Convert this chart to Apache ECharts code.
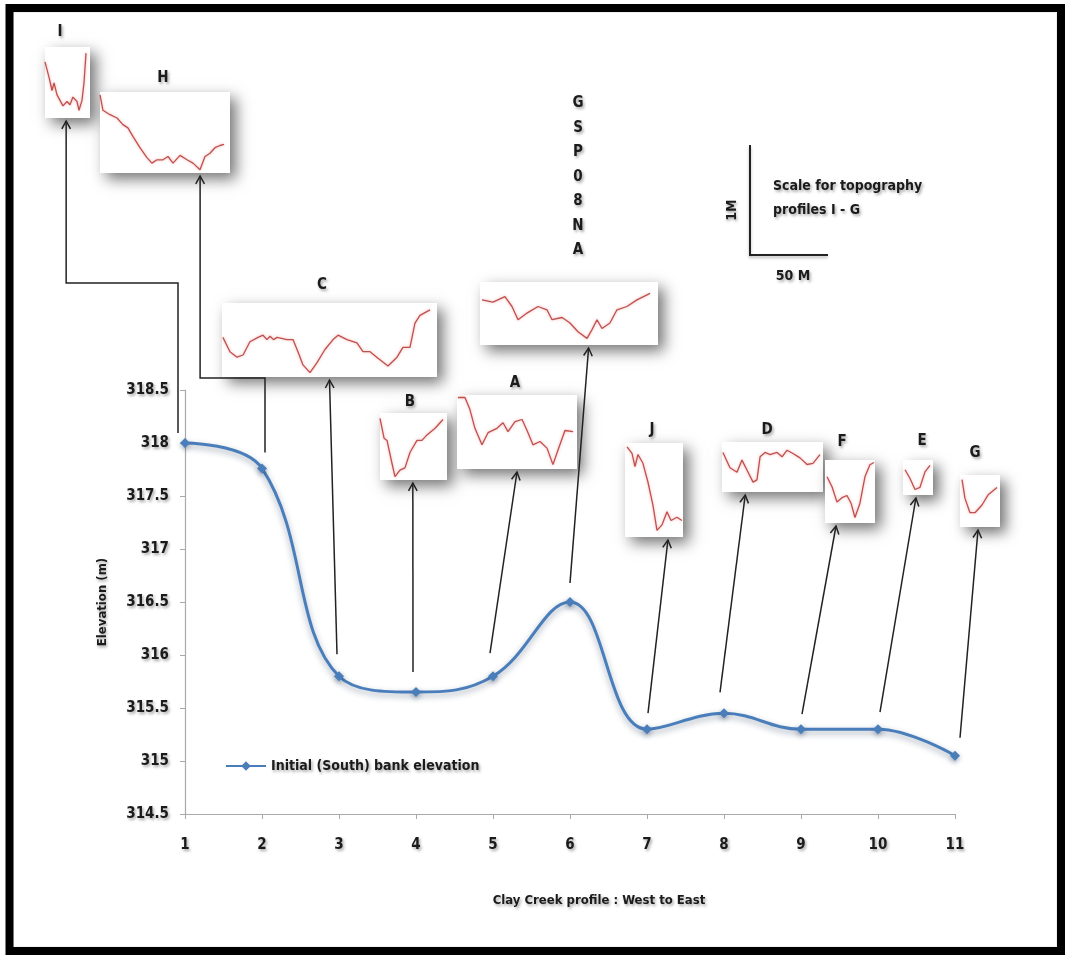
<!DOCTYPE html>
<html>
<head>
<meta charset="utf-8">
<title>Clay Creek bank elevation</title>
<script src="https://cdn.jsdelivr.net/npm/echarts@6/dist/echarts.min.js"></script>
<style>
  html, body { margin: 0; padding: 0; background: #ffffff; }
  #chart { width: 1065px; height: 955px; }
</style>
</head>
<body>
<div id="chart"></div>
<script>
// ---- Main profile: bank elevation at each cross-section (West to East) ----
const profilePositions = [1, 2, 3, 4, 5, 6, 7, 8, 9, 10, 11];
const bankElevation = [318.0, 317.76, 315.8, 315.65, 315.8, 316.5, 315.3, 315.45, 315.3, 315.3, 315.05];
const seriesName = 'Initial (South) bank elevation';

// ---- Cross-section topography (distance along section in m, relative elevation in cm) ----
const profileI_m  = [0, 2.6, 4.5, 5.8, 7.7, 9.6, 11.5, 14.1, 16.0, 17.9, 20.5, 21.8, 23.7, 25.0, 26.3];
const profileI_cm = [51, 37, 25, 32, 21, 16, 11, 15, 12, 19, 15, 7, 16, 32, 59];

const profileH_m  = [0, 1.9, 6.4, 10.9, 14.7, 17.9, 21.2, 25.6, 30.1, 33.3, 36.5, 40.4, 43.6, 46.8, 51.3, 55.8, 59.6, 64.1, 67.3, 70.5, 73.7, 76.9, 79.5];
const profileH_cm = [71, 57, 53, 50, 44, 41, 33, 23, 14, 9, 12, 12, 15, 9, 16, 12, 9, 3, 15, 18, 23, 25, 26];

const profileC_m  = [0.6, 5.1, 9.6, 13.5, 17.9, 23.1, 26.3, 28.8, 30.8, 33.0, 35.3, 41.7, 45.5, 48.7, 51.9, 56.4, 60.9, 66.0, 71.2, 74.4, 80.1, 86.5, 90.4, 94.9, 100.0, 106.4, 112.2, 116.0, 120.5, 123.7, 126.9, 133.3];
const profileC_cm = [36, 23, 18, 20, 32, 36, 38, 34, 37, 34, 36, 34, 34, 23, 11, 4, 13, 25, 34, 38, 34, 31, 23, 23, 17, 10, 18, 27, 27, 49, 56, 61];

const profileGSP_m  = [1.3, 8.3, 16.0, 20.5, 24.4, 30.1, 37.2, 42.9, 46.2, 52.6, 57.7, 62.8, 68.6, 71.8, 75.0, 78.2, 83.3, 87.8, 94.2, 100.6, 109.0];
const profileGSP_cm = [41, 39, 44, 35, 23, 29, 35, 32, 23, 25, 20, 12, 6, 14, 23, 15, 20, 32, 35, 41, 47];

const profileB_m  = [0, 2.6, 4.5, 7.7, 9.6, 12.8, 16.0, 19.2, 23.7, 26.9, 30.1, 35.3, 40.4];
const profileB_cm = [56, 38, 36, 15, 3, 9, 11, 25, 36, 36, 41, 47, 55];

const profileA_m  = [0.6, 5.1, 8.3, 11.5, 16.0, 19.9, 25.6, 29.5, 32.7, 37.2, 41.7, 44.9, 48.7, 53.2, 57.7, 61.5, 64.7, 69.2, 74.4];
const profileA_cm = [65, 65, 54, 37, 22, 33, 37, 42, 34, 43, 45, 35, 22, 25, 19, 4, 17, 35, 34];

const profileJ_m  = [1.3, 4.5, 6.4, 8.3, 11.5, 14.7, 17.9, 20.5, 23.7, 26.9, 29.5, 33.3, 36.5];
const profileJ_cm = [82, 76, 64, 75, 67, 50, 29, 6, 11, 23, 15, 18, 15];

const profileD_m  = [0.6, 5.1, 9.6, 12.8, 16.0, 19.9, 22.4, 24.4, 27.6, 30.8, 35.3, 38.5, 41.7, 45.5, 50.0, 54.5, 58.3, 62.8];
const profileD_cm = [36, 22, 18, 29, 20, 9, 11, 32, 36, 34, 36, 32, 38, 35, 31, 25, 26, 34];

const profileF_m  = [1.3, 4.5, 7.7, 10.9, 14.1, 16.7, 19.2, 22.4, 25.6, 28.8, 31.4];
const profileF_cm = [42, 33, 19, 23, 25, 18, 5, 18, 42, 53, 55];

const profileE_m  = [1.3, 4.5, 7.7, 10.9, 14.1, 17.3];
const profileE_cm = [23, 15, 5, 7, 21, 27];

const profileG_m  = [1.3, 3.2, 6.4, 9.6, 14.1, 17.9, 23.7];
const profileG_cm = [43, 26, 13, 13, 20, 29, 36];

// ---- Scale of the topography insets ----
const PX_PER_M_ALONG = 78 / 50;   // horizontal: 50 m bar
const PX_PER_CM_UP = 110 / 100;   // vertical: 1 m bar

// ---- Inset layout: [left, top, width, height], label anchor, arrow geometry ----
const insets = [
  { name: 'I', m: profileI_m, cm: profileI_cm, box: [45, 47, 45, 71], label: [60, 32],
    point: 0, dx: -7, gap: 10, bendY: 283, endFrac: 0.47 },
  { name: 'H', m: profileH_m, cm: profileH_cm, box: [100, 92, 130, 81], label: [163, 78],
    point: 1, dx: 3, gap: 16, bendY: 378, endFrac: 0.77 },
  { name: 'C', m: profileC_m, cm: profileC_cm, box: [222, 303, 215, 74], label: [322, 285],
    point: 2, dx: -2, gap: 22, endFrac: 0.50 },
  { name: 'GSP08NA', m: profileGSP_m, cm: profileGSP_cm, box: [480, 282, 178, 63], label: null,
    point: 5, dx: 0, gap: 19, endFrac: 0.61 },
  { name: 'B', m: profileB_m, cm: profileB_cm, box: [380, 413, 67, 67], label: [410, 402],
    point: 3, dx: -3, gap: 20, endFrac: 0.49 },
  { name: 'A', m: profileA_m, cm: profileA_cm, box: [457, 395, 120, 74], label: [515, 383],
    point: 4, dx: -3, gap: 23, endFrac: 0.50 },
  { name: 'J', m: profileJ_m, cm: profileJ_cm, box: [625, 443, 58, 94], label: [652, 430],
    point: 6, dx: 1, gap: 16, endFrac: 0.74 },
  { name: 'D', m: profileD_m, cm: profileD_cm, box: [722, 442, 101, 50], label: [767, 430],
    point: 7, dx: -4, gap: 21, endFrac: 0.23 },
  { name: 'F', m: profileF_m, cm: profileF_cm, box: [825, 460, 50, 63], label: [842, 442],
    point: 8, dx: 1, gap: 15, endFrac: 0.22 },
  { name: 'E', m: profileE_m, cm: profileE_cm, box: [903, 460, 30, 35], label: [922, 441],
    point: 9, dx: 2, gap: 17, endFrac: 0.43 },
  { name: 'G', m: profileG_m, cm: profileG_cm, box: [960, 475, 40, 52], label: [975, 453],
    point: 10, dx: 5, gap: 18, endFrac: 0.45 }
];

const FONT = '"DejaVu Sans Condensed", "Liberation Sans Narrow", "DejaVu Sans", sans-serif';
const INK = '#1b1b1b';
const textShadow = {
  textShadowColor: 'rgba(0,0,0,0.35)', textShadowBlur: 3,
  textShadowOffsetX: 1.5, textShadowOffsetY: 2
};

const chart = echarts.init(document.getElementById('chart'), null, { renderer: 'canvas' });

// ---- Build grids / axes / series ----
const grids = [{ left: 185, top: 390, width: 770, height: 424, containLabel: false }];
const xAxes = [{
  type: 'value', gridIndex: 0, min: 1, max: 11, interval: 1,
  name: 'Clay Creek profile : West to East', nameLocation: 'middle', nameGap: 80,
  nameTextStyle: Object.assign({ color: INK, fontFamily: FONT, fontWeight: 'bold', fontSize: 13,
    padding: [0, 0, 0, 58] }, textShadow),
  axisLine: { show: true, lineStyle: { color: '#a9a9a9', width: 1.2 } },
  axisTick: { show: true, length: 5, lineStyle: { color: '#a9a9a9' } },
  splitLine: { show: false },
  axisLabel: Object.assign({ color: INK, fontFamily: FONT, fontWeight: 'bold', fontSize: 15, margin: 24 }, textShadow)
}];
const yAxes = [{
  type: 'value', gridIndex: 0, min: 314.5, max: 318.5, interval: 0.5,
  name: 'Elevation (m)', nameLocation: 'middle', nameGap: 76, nameRotate: 90,
  nameTextStyle: Object.assign({ color: INK, fontFamily: FONT, fontWeight: 'bold', fontSize: 13 }, textShadow),
  axisLine: { show: true, lineStyle: { color: '#a9a9a9', width: 1.2 } },
  axisTick: { show: true, length: 5, lineStyle: { color: '#a9a9a9' } },
  splitLine: { show: false },
  axisLabel: Object.assign({ color: INK, fontFamily: FONT, fontWeight: 'bold', fontSize: 15, margin: 16 }, textShadow)
}];
const series = [{
  name: seriesName, type: 'line', xAxisIndex: 0, yAxisIndex: 0,
  data: profilePositions.map((p, i) => [p, bankElevation[i]]),
  smooth: 0.4,
  symbol: 'diamond', symbolSize: 10,
  itemStyle: { color: '#4a7ebb', shadowColor: 'rgba(40,60,90,0.45)', shadowBlur: 5, shadowOffsetY: 2 },
  lineStyle: { color: '#4a7ebb', width: 3, shadowColor: 'rgba(40,60,90,0.45)', shadowBlur: 6, shadowOffsetY: 3 },
  z: 3
}];

insets.forEach((ins, k) => {
  const [l, t, w, h] = ins.box;
  grids.push({
    left: l, top: t, width: w, height: h, show: true,
    backgroundColor: '#ffffff', borderWidth: 0,
    shadowColor: 'rgba(0,0,0,0.55)', shadowBlur: 14, shadowOffsetX: 6, shadowOffsetY: 6
  });
  xAxes.push({ type: 'value', gridIndex: k + 1, min: 0, max: w / PX_PER_M_ALONG, show: false });
  yAxes.push({ type: 'value', gridIndex: k + 1, min: 0, max: h / PX_PER_CM_UP, show: false });
  series.push({
    name: 'profile ' + ins.name, type: 'line', xAxisIndex: k + 1, yAxisIndex: k + 1,
    data: ins.m.map((d, i) => [d, ins.cm[i]]),
    showSymbol: false, silent: true,
    lineStyle: { color: '#c0504d', width: 1.3, shadowColor: 'rgba(230,120,120,0.6)', shadowBlur: 3 },
    z: 4
  });
});

chart.setOption({
  animation: false,
  backgroundColor: '#ffffff',
  grid: grids,
  xAxis: xAxes,
  yAxis: yAxes,
  legend: {
    data: [seriesName], left: 220, top: 754, itemWidth: 40, itemHeight: 12, itemGap: 6,
    textStyle: Object.assign({ color: INK, fontFamily: FONT, fontWeight: 'bold', fontSize: 14 }, textShadow)
  },
  series: series
});

// ---- Annotation layer: arrows, inset labels, scale bar, frame ----
const graphics = [];
const ARROW_STYLE = { stroke: '#222222', lineWidth: 1.5, fill: 'none' };

function arrowHead(from, to) {
  const ang = Math.atan2(to[1] - from[1], to[0] - from[0]);
  const len = 9, spread = 0.5;
  return [
    [to[0] - len * Math.cos(ang - spread), to[1] - len * Math.sin(ang - spread)],
    to,
    [to[0] - len * Math.cos(ang + spread), to[1] - len * Math.sin(ang + spread)]
  ];
}

insets.forEach(ins => {
  const [l, t, w, h] = ins.box;
  const pt = chart.convertToPixel({ xAxisIndex: 0, yAxisIndex: 0 },
    [profilePositions[ins.point], bankElevation[ins.point]]);
  const start = [pt[0] + ins.dx, pt[1] - ins.gap];
  const end = [l + ins.endFrac * w, t + h + 3];
  let pts;
  if (ins.bendY !== undefined) {
    pts = [start, [start[0], ins.bendY], [end[0], ins.bendY], end];
  } else {
    pts = [start, end];
  }
  graphics.push({ type: 'polyline', shape: { points: pts }, style: ARROW_STYLE, z: 1, silent: true });
  graphics.push({ type: 'polyline', shape: { points: arrowHead(pts[pts.length - 2], end) },
    style: ARROW_STYLE, z: 1, silent: true });
  if (ins.label) {
    graphics.push({
      type: 'text', x: ins.label[0], y: ins.label[1], z: 5, silent: true,
      style: Object.assign({ text: ins.name, font: 'bold 15px ' + FONT, fill: INK,
        align: 'center', verticalAlign: 'middle' }, textShadow)
    });
  }
});

// vertical name of the GSP08NA section
graphics.push({
  type: 'text', x: 578, y: 91, z: 5, silent: true,
  style: Object.assign({ text: 'GSP08NA'.split('').join('\n'), font: 'bold 15px ' + FONT, fill: INK,
    align: 'center', verticalAlign: 'top', lineHeight: 24.5 }, textShadow)
});

// scale bar for the topography insets
const sbX = 750, sbY = 255;
graphics.push({
  type: 'polyline', silent: true, z: 5,
  shape: { points: [[sbX, sbY - 100 * PX_PER_CM_UP], [sbX, sbY], [sbX + 50 * PX_PER_M_ALONG, sbY]] },
  style: { stroke: '#222222', lineWidth: 2, fill: 'none', shadowColor: 'rgba(0,0,0,0.3)', shadowBlur: 3, shadowOffsetY: 2 }
});
graphics.push({
  type: 'text', x: 732, y: 210, rotation: Math.PI / 2, z: 5, silent: true,
  style: Object.assign({ text: '1M', font: 'bold 14px ' + FONT, fill: INK, align: 'center', verticalAlign: 'middle' }, textShadow)
});
graphics.push({
  type: 'text', x: 773, y: 198, z: 5, silent: true,
  style: Object.assign({ text: 'Scale for topography\nprofiles I - G', font: 'bold 14px ' + FONT, fill: INK,
    align: 'left', verticalAlign: 'middle', lineHeight: 24 }, textShadow)
});
graphics.push({
  type: 'text', x: 793, y: 276, z: 5, silent: true,
  style: Object.assign({ text: '50 M', font: 'bold 14px ' + FONT, fill: INK, align: 'center', verticalAlign: 'middle' }, textShadow)
});

// picture frame with a soft inner shadow
graphics.push({
  type: 'rect', silent: true, z: 6,
  shape: { x: 13, y: 12, width: 1044, height: 935 },
  style: { fill: 'none', stroke: 'rgba(0,0,0,0.06)', lineWidth: 2, shadowColor: 'rgba(0,0,0,0.35)', shadowBlur: 10 }
});
graphics.push({
  type: 'rect', silent: true, z: 7,
  shape: { x: 9.5, y: 8, width: 1051.5, height: 943 },
  style: { fill: 'none', stroke: '#000000', lineWidth: 8 }
});

chart.setOption({ graphic: graphics });
</script>
</body>
</html>
